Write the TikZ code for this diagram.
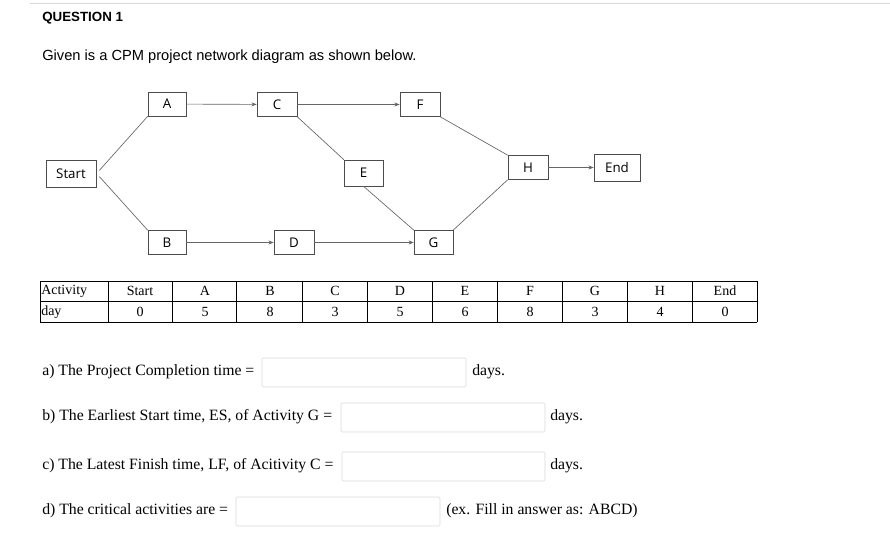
\documentclass[tikz,border=0pt]{standalone}
\usepackage{fontspec}
\setmainfont{Liberation Serif}
\newfontfamily\arialf{Liberation Sans}
\newfontfamily\segf{Open Sans}
\usetikzlibrary{arrows.meta}
\begin{document}
\begin{tikzpicture}[x=0.75pt,y=-0.75pt,
  nb/.style={draw=black!70,fill=white,font=\segf\fontsize{10}{11}\selectfont,inner sep=0,minimum height=18pt},
  ln/.style={draw=black!60,line width=0.5pt},
  ar/.style={ln,-{Stealth[length=4pt,width=3pt]}},
  ab/.style={draw=black!15,fill=white,rounded corners=1pt},
  qt/.style={anchor=west,font=\fontsize{11.8}{13}\selectfont,inner sep=0}]
\useasboundingbox (0,0) rectangle (890,554);
\draw[black!15] (30,3) -- (890,3);
\node[anchor=west,inner sep=0,font=\arialf\bfseries\fontsize{10}{12}\selectfont] (q) at (42,18) {QUESTION 1};
\node[anchor=west,inner sep=0,font=\arialf\fontsize{11}{13}\selectfont] (g) at (42,57) {Given is a CPM project network diagram as shown below.};
\node[nb,minimum width=37.5pt,minimum height=20pt] (st) at (71,173.5) {Start};
\node[nb,minimum width=28.5pt] (A) at (167,104) {A};
\node[nb,minimum width=30pt] (C) at (277,104.5) {C};
\node[nb,minimum width=30pt] (F) at (420,104.5) {F};
\node[nb,minimum width=29pt,minimum height=19.5pt] (E) at (363.5,173) {E};
\node[nb,minimum width=30pt] (H) at (528,167.5) {H};
\node[nb,minimum width=34.5pt,minimum height=20pt] (en) at (617,167.5) {End};
\node[nb,minimum width=28.5pt] (B) at (167,242.5) {B};
\node[nb,minimum width=30pt] (D) at (294,242.5) {D};
\node[nb,minimum width=29pt] (G) at (433.5,242.5) {G};
\draw[ln] (st.east) ++(3,-3) -- (A.south west);
\draw[ln] (st.east) ++(3,3) -- (B.north west);
\draw[ar] (A) -- (C);
\draw[ar] (C) -- (F);
\draw[ln] (C.south east) -- (E.north west);
\draw[ln] (F.south east) -- (H.north west);
\draw[ln] (E.south) -- (G.north west);
\draw[ar] (B) -- (D);
\draw[ar] (D) -- (G);
\draw[ln] (G.north east) -- (H.south west);
\draw[ar] (H) -- (en);
% table
\foreach \x in {40,108,172,236,302,367,432,497,562,627,692,757} \draw[black] (\x,281) -- (\x,322);
\draw (40,281) -- (757,281) (40,301) -- (757,301) (40,322) -- (757,322);
\foreach \t/\a/\b [count=\i] in {Start/0/0,A/5/1,B/8/2,C/3/3,D/5/4,E/6/5,F/8/6,G/3/7,H/4/8,End/0/9}{
  \pgfmathsetmacro\cx{140+65*\b}
  \node[font=\fontsize{10.5}{12}\selectfont,inner sep=0] (h\i) at (\cx,291) {\t};
  \node[font=\fontsize{10.5}{12}\selectfont,inner sep=0] (v\i) at (\cx,312) {\a};
}
\node[anchor=west,inner sep=0,font=\fontsize{10.5}{12}\selectfont] (act) at (41,291) {Activity};
\node[anchor=west,inner sep=0,font=\fontsize{10.5}{12}\selectfont] (day) at (41,312) {day};
% questions
\node[qt] (qa) at (42,372) {a) The Project Completion time =};
\draw[ab] (262,358) rectangle (466,387);
\node[qt] (da) at (472,372) {days.};
\node[qt] (qb) at (42,417) {b) The Earliest Start time, ES, of Activity G =};
\draw[ab] (341,403) rectangle (545,432);
\node[qt] (db) at (550,417) {days.};
\node[qt] (qc) at (42,466) {c) The Latest Finish time, LF, of Acitivity C =};
\draw[ab] (342,452) rectangle (545,481);
\node[qt] (dc) at (550,466) {days.};
\node[qt] (qd) at (42,511) {d) The critical activities are =};
\draw[ab] (236,497) rectangle (440,526);
\node[qt] (dd) at (446,511) {(ex. Fill in answer as: ABCD)};
\end{tikzpicture}
\end{document}
